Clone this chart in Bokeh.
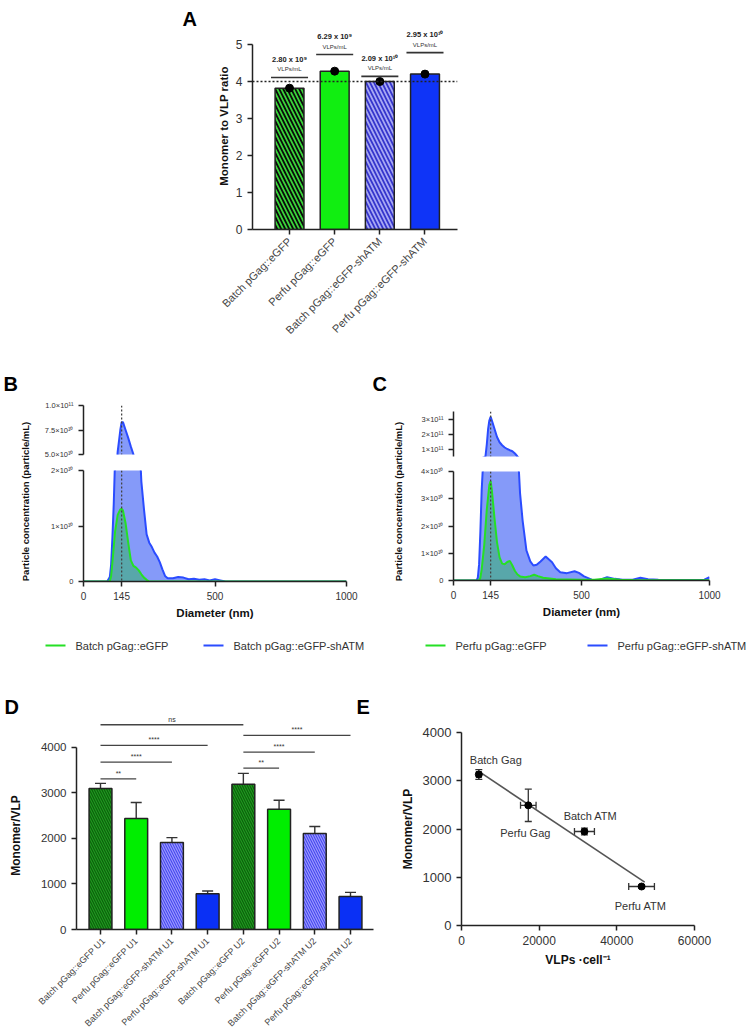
import numpy as np
from math import pi
from bokeh.plotting import figure
from bokeh.layouts import row, column
from bokeh.models import (Range1d, FixedTicker, Span, Label, Whisker, TeeHead,
                          ColumnDataSource)
from bokeh.core.properties import value
from bokeh.embed import file_html
from bokeh.resources import INLINE

FONT = "Liberation Sans"

# ---------------- Panel A data ----------------
a_categories = ["Batch pGag::eGFP", "Perfu pGag::eGFP",
                "Batch pGag::eGFP-shATM", "Perfu pGag::eGFP-shATM"]
a_ratio = [3.82, 4.28, 4.00, 4.20]
a_conc_labels = ["2.80 x 10⁹", "6.29 x 10⁹", "2.09 x 10¹⁰", "2.95 x 10¹⁰"]
a_conc_unit = ["VLPs/mL", "VLPs/mL", "VLPs/mL", "VLPs/mL"]
a_bracket_level = [4.11, 4.73, 4.14, 4.78]
a_reference_ratio = 4.0
a_ticks = [0, 1, 2, 3, 4, 5]

# ---------------- Panel B data (Batch), concentration in 1e10 particles/mL ----------------
b_gfp_d = [0, 100, 105, 110, 120, 130, 140, 145, 150, 160, 170, 180, 190, 200, 210,
           220, 230, 240, 250, 1000]
b_gfp_c = [0, 0, 0.1, 0.35, 0.9, 1.2, 1.3, 1.31, 1.28, 1.05, 0.7, 0.38, 0.28, 0.25, 0.2,
           0.13, 0.07, 0.03, 0.0, 0.0]
b_atm_d = [0, 90, 100, 105, 110, 115, 120, 125, 130, 135, 140, 145, 150, 160, 170, 180,
           190, 200, 210, 215, 220, 230, 240, 250, 260, 270, 280, 290, 300, 310, 320, 340,
           360, 380, 400, 420, 440, 460, 480, 500, 520, 540, 1000]
b_atm_c = [0, 0, 0.08, 0.3, 0.8, 1.4, 2.2, 3.6, 5.3, 6.4, 7.5, 8.3, 8.3, 7.5, 6.7, 5.8,
           5.0, 4.0, 2.9, 2.3, 1.8, 1.3, 0.85, 0.7, 0.62, 0.52, 0.45, 0.35, 0.22, 0.1, 0.06,
           0.06, 0.08, 0.07, 0.04, 0.05, 0.03, 0.04, 0.02, 0.04, 0.02, 0.0, 0.0]
b_top_ticks = [5, 7.5, 10]
b_top_labels = ["5.0×10¹⁰", "7.5×10¹⁰", "1.0×10¹¹"]
b_bot_ticks = [0, 1, 2]
b_bot_labels = ["0", "1×10¹⁰", "2×10¹⁰"]
b_legend = ["Batch pGag::eGFP", "Batch pGag::eGFP-shATM"]

# ---------------- Panel C data (Perfusion) ----------------
c_gfp_d = [0, 100, 105, 110, 120, 130, 140, 145, 150, 160, 170, 180, 190, 200, 210, 220,
           230, 240, 250, 260, 280, 300, 315, 330, 350, 400, 450, 500, 550, 600, 650, 700,
           800, 1000]
c_gfp_c = [0, 0, 0.1, 0.4, 1.3, 2.6, 3.5, 3.65, 3.3, 2.3, 1.4, 0.85, 0.62, 0.6, 0.68, 0.72,
           0.55, 0.35, 0.22, 0.15, 0.12, 0.16, 0.21, 0.16, 0.1, 0.05, 0.04, 0.03, 0.03, 0.07,
           0.03, 0.02, 0.01, 0.01]
c_atm_d = [0, 90, 95, 100, 105, 110, 115, 120, 125, 130, 135, 140, 145, 150, 160, 170, 180,
           190, 200, 210, 220, 230, 240, 250, 260, 270, 285, 300, 312, 325, 340, 360, 385,
           400, 417, 443, 473, 490, 510, 540, 570, 600, 630, 660, 700, 730, 760, 800, 900,
           980, 1000]
c_atm_c = [0, 0, 0.1, 0.6, 1.8, 3.3, 4.2, 4.6, 5.2, 13, 23, 29, 31.5, 29, 23.5, 18, 14.5,
           12.5, 11, 10, 9.2, 8.5, 7, 5, 3.2, 2.2, 1.1, 0.7, 0.55, 0.58, 0.7, 0.88, 0.67,
           0.45, 0.3, 0.27, 0.34, 0.28, 0.15, 0.03, 0.02, 0.12, 0.06, 0.03, 0.03, 0.1, 0.05,
           0.03, 0.02, 0.03, 0.12]
c_top_ticks = [10, 20, 30]
c_top_labels = ["1×10¹¹", "2×10¹¹", "3×10¹¹"]
c_bot_ticks = [0, 1, 2, 3, 4]
c_bot_labels = ["0", "1×10¹⁰", "2×10¹⁰", "3×10¹⁰", "4×10¹⁰"]
c_legend = ["Perfu pGag::eGFP", "Perfu pGag::eGFP-shATM"]

dist_x_ticks = [0, 145, 500, 1000]
mode_diameter = 145

# ---------------- Panel D data ----------------
d_categories = ["Batch pGag::eGFP U1", "Perfu pGag::eGFP U1", "Batch pGag::eGFP-shATM U1",
                "Perfu pGag::eGFP-shATM U1", "Batch pGag::eGFP U2", "Perfu pGag::eGFP U2",
                "Batch pGag::eGFP-shATM U2", "Perfu pGag::eGFP-shATM U2"]
d_mean = [3100, 2440, 1910, 785, 3190, 2640, 2110, 725]
d_err = [110, 350, 110, 60, 240, 200, 155, 90]
d_sig_from = [1, 1, 1, 1, 5, 5, 5]
d_sig_to = [2, 3, 4, 5, 6, 7, 8]
d_sig_level = [3312, 3677, 4044, 4499, 3545, 3897, 4264]
d_sig_text = ["**", "****", "****", "ns", "**", "****", "****"]
d_ticks = [0, 1000, 2000, 3000, 4000]

# ---------------- Panel E data ----------------
e_labels = ["Batch Gag", "Perfu Gag", "Batch ATM", "Perfu ATM"]
e_vlp_per_cell = [4460, 17200, 31660, 46370]
e_vlp_err = [600, 2000, 2570, 3310]
e_monomer = [3130, 2490, 1948, 808]
e_monomer_err = [100, 335, 70, 30]
e_x_ticks = [0, 20000, 40000, 60000]
e_y_ticks = [0, 1000, 2000, 3000, 4000]

# ---------------- styles ----------------
D_COLORS = ["#1f9a1f", "#00ee00", "#4646ee", "#0a30f5"] * 2
D_HATCH = ["left_diagonal_line", " ", "left_diagonal_line", " "] * 2
D_HATCH_COLORS = ["#0c600c", "#00ee00", "#9a9aff", "#0a30f5"] * 2
LINE_BLUE = "#2b4cff"
FILL_BLUE = "#3a5cf5"
LINE_GREEN = "#25e025"
FILL_GREEN = "#22b84a"
INK = "#222222"


def mk(fw, fh, xr, yr, bl, br, bt, bb, xaxis=True, yaxis=True):
    p = figure(frame_width=fw, frame_height=fh, x_range=xr, y_range=yr,
               min_border_left=bl, min_border_right=br, min_border_top=bt,
               min_border_bottom=bb, toolbar_location=None, output_backend="svg",
               title=None,
               x_axis_type="linear" if xaxis else None,
               y_axis_type="linear" if yaxis else None)
    p.outline_line_color = None
    p.grid.visible = False
    p.background_fill_color = "white"
    p.border_fill_color = "white"
    return p


def blank(w, h):
    """A figure whose frame is the whole canvas; data units = pixels (y upwards)."""
    return mk(w, h, Range1d(0, w), Range1d(0, h), 0, 0, 0, 0, xaxis=False, yaxis=False)


def solo(p):
    """Wrap a plot so that sibling plots do not align their frames with it."""
    return column(p)


def style_axis(ax, size="11px", label_size="11px"):
    ax.axis_line_width = 1.5
    ax.axis_line_color = INK
    ax.major_tick_line_width = 1.5
    ax.major_tick_line_color = INK
    ax.major_tick_out = 5
    ax.major_tick_in = 0
    ax.minor_tick_line_color = None
    ax.major_label_text_font = FONT
    ax.major_label_text_font_size = size
    ax.major_label_text_color = "#333333"
    ax.axis_label_text_font = FONT
    ax.axis_label_text_font_style = "bold"
    ax.axis_label_text_font_size = label_size
    ax.axis_label_text_color = "#111111"


def to_data(px, py, fx0, fx1, fyt, fyb, xr, yr):
    x = xr[0] + (px - fx0) * (xr[1] - xr[0]) / (fx1 - fx0)
    y = yr[0] + (fyb - py) * (yr[1] - yr[0]) / (fyb - fyt)
    return x, y


def letter(p, txt, x, y, size="20px"):
    p.add_layout(Label(x=x, y=y, text=txt, text_font=FONT, text_font_size=size,
                       text_font_style="bold", text_color="#000000",
                       text_baseline="middle", text_align="left"))


def vlabel(p, txt, x, y, size):
    p.add_layout(Label(x=x, y=y, text=txt, angle=pi / 2, text_font=FONT,
                       text_font_size=size, text_font_style="bold", text_color="#111111",
                       text_align="center", text_baseline="middle"))


# ================= Panel A =================
labA = blank(208, 372)
letter(labA, "A", 182, 372 - 18)

a_xr = (0.18, 4.72)
a_yr = (0, 5.595)
fa = mk(205, 207, Range1d(*a_xr), Range1d(*a_yr), 44, 294, 22, 143)
a_x = list(range(1, len(a_categories) + 1))
a_src = ColumnDataSource(dict(
    x=a_x, top=a_ratio,
    color=["#3ad63a", "#11ee11", "#3434cc", "#0f34f7"],
    hatch=["left_diagonal_line", " ", "left_diagonal_line", " "],
    hcolor=["#0a0a0a", "#11ee11", "#a8a8f4", "#0f34f7"]))
fa.vbar(x="x", top="top", width=0.64, source=a_src, fill_color="color",
        line_color=INK, line_width=1.5, hatch_pattern="hatch", hatch_color="hcolor",
        hatch_scale=8, hatch_weight=1.8)
fa.scatter(x="x", y="top", source=a_src, size=8, color="#000000")
fa.add_layout(Span(location=a_reference_ratio, dimension="width", line_color=INK,
                   line_dash="2 2", line_width=1.3))
ax_arr = np.array(a_x, dtype=float)
fa.segment(x0=ax_arr - 0.41, x1=ax_arr + 0.41, y0=a_bracket_level, y1=a_bracket_level,
           line_color="#333333", line_width=1.6)
fa.text(x=a_x, y=a_bracket_level, text=a_conc_labels, y_offset=-18,
        text_font=value(FONT), text_font_size="7.5px", text_font_style="bold",
        text_align="center", text_baseline="middle", text_color="#222222")
fa.text(x=a_x, y=a_bracket_level, text=a_conc_unit, y_offset=-8,
        text_font=value(FONT), text_font_size="6px",
        text_align="center", text_baseline="middle", text_color="#333333")
style_axis(fa.yaxis[0], "12px", "11.5px")
fa.yaxis.ticker = FixedTicker(ticks=a_ticks)
fa.yaxis.bounds = (0, 5)
fa.yaxis.axis_label = "Monomer to VLP ratio"
fa.yaxis.axis_label_standoff = 3
style_axis(fa.xaxis[0], "11px")
fa.xaxis.ticker = FixedTicker(ticks=a_x)
fa.xaxis.major_label_overrides = {i: c for i, c in zip(a_x, a_categories)}
fa.xaxis.major_label_orientation = pi / 4
fa.xaxis.major_label_text_color = "#444444"


# ================= Panels B and C =================
def dist_panel(gfp_d, gfp_c, atm_d, atm_c, top_rng, top_ticks, top_labels,
               bot_rng, bot_ticks, bot_labels, legend_labels, fw, bl, br,
               top_fh, top_bt, top_bb, bot_fh, bot_bt, bot_bb, leg_x):
    figs = []
    specs = [(top_rng, top_ticks, top_labels, top_fh, top_bt, top_bb, False),
             (bot_rng, bot_ticks, bot_labels, bot_fh, bot_bt, bot_bb, True)]
    for rng, ticks, labels, fh, bt, bb, is_bottom in specs:
        p = mk(fw, fh, Range1d(0, 1000), Range1d(*rng), bl, br, bt, bb, xaxis=is_bottom)
        p.varea(x=atm_d, y1=0, y2=atm_c, fill_color=FILL_BLUE, fill_alpha=0.62)
        p.varea(x=gfp_d, y1=0, y2=gfp_c, fill_color=FILL_GREEN, fill_alpha=0.45)
        p.line(atm_d, atm_c, line_color=LINE_BLUE, line_width=2)
        p.line(gfp_d, gfp_c, line_color=LINE_GREEN, line_width=2)
        p.add_layout(Span(location=mode_diameter, dimension="height", line_color="#444444",
                          line_dash="2 2", line_width=1.3))
        style_axis(p.yaxis[0], "7.5px")
        p.yaxis.ticker = FixedTicker(ticks=ticks)
        p.yaxis.major_label_overrides = {t: l for t, l in zip(ticks, labels)}
        if is_bottom:
            style_axis(p.xaxis[0], "10px", "11.5px")
            p.xaxis.ticker = FixedTicker(ticks=dist_x_ticks)
            p.xaxis.axis_label = "Diameter (nm)"
            p.xaxis.axis_label_standoff = 4
        figs.append(p)
    # legend strip (swatch lines + labels), drawn in a pixel-unit strip
    w = bl + fw + br
    lg = blank(w, 40)
    sw_x0 = np.array(leg_x, dtype=float)
    lg.segment(x0=sw_x0, x1=sw_x0 + 20, y0=[17, 17], y1=[17, 17],
               line_color=[LINE_GREEN, LINE_BLUE], line_width=2.2)
    lg.text(x=sw_x0 + 30, y=[17, 17], text=legend_labels, text_font=value(FONT),
            text_font_size="11px", text_color="#333333", text_baseline="middle",
            text_align="left")
    figs.append(lg)
    return figs


topB, botB, legB = dist_panel(b_gfp_d, b_gfp_c, b_atm_d, b_atm_c,
                              (5, 10), b_top_ticks, b_top_labels,
                              (0, 2), b_bot_ticks, b_bot_labels, b_legend,
                              263, 47, 24, 49, 33, 8, 111, 8, 41, [9, 167])
topC, botC, legC = dist_panel(c_gfp_d, c_gfp_c, c_atm_d, c_atm_c,
                              (5, 35), c_top_ticks, c_top_labels,
                              (0, 4), c_bot_ticks, c_bot_labels, c_legend,
                              256, 43, 42, 45, 39, 6, 109, 9, 42, [15, 177])


def label_fig(width, letter_txt, letter_x, ylabel_x):
    p = blank(width, 290)
    letter(p, letter_txt, letter_x, 290 - 11)
    vlabel(p, "Particle concentration (particle/mL)", ylabel_x, 290 - 129, "9.5px")
    return p


labB = label_fig(36, "B", 3, 25)
labC = label_fig(40, "C", 2, 28)

# ================= Panel D =================
labD = blank(36, 365)
letter(labD, "D", 4, 365 - 44)
vlabel(labD, "Monomer/VLP", 15, 365 - (835 - 662), "12px")

d_yr = (0, 5252)
d_xr = (0.328, 8.644)
fd = mk(297, 239, Range1d(*d_xr), Range1d(*d_yr), 40, 7, 28, 98)
d_x = list(range(1, len(d_categories) + 1))
d_src = ColumnDataSource(dict(
    x=d_x, top=d_mean, upper=[m + e for m, e in zip(d_mean, d_err)],
    color=D_COLORS, hatch=D_HATCH, hcolor=D_HATCH_COLORS))
fd.vbar(x="x", top="top", width=0.64, source=d_src, fill_color="color",
        line_color=INK, line_width=1.5, hatch_pattern="hatch", hatch_color="hcolor",
        hatch_scale=5, hatch_weight=1.2)
fd.add_layout(Whisker(source=d_src, base="x", lower="top", upper="upper",
                      dimension="height", line_color="#333333", line_width=1.4,
                      upper_head=TeeHead(size=11, line_color="#333333", line_width=1.4),
                      lower_head=None))
fd.segment(x0=d_sig_from, x1=d_sig_to, y0=d_sig_level, y1=d_sig_level,
           line_color="#444444", line_width=1.3)
sig_mid = [(a + b) / 2 for a, b in zip(d_sig_from, d_sig_to)]
fd.text(x=sig_mid, y=d_sig_level, text=d_sig_text, y_offset=-2,
        text_font=value(FONT), text_font_size="7px", text_align="center",
        text_baseline="bottom", text_color="#333333")
style_axis(fd.yaxis[0], "11.5px", "12px")
fd.yaxis.ticker = FixedTicker(ticks=d_ticks)
fd.yaxis.bounds = (0, 4000)
style_axis(fd.xaxis[0], "9px")
fd.xaxis.ticker = FixedTicker(ticks=d_x)
fd.xaxis.major_label_overrides = {i: c for i, c in zip(d_x, d_categories)}
fd.xaxis.major_label_orientation = pi / 4
fd.xaxis.major_label_text_color = "#444444"
lx, ly = to_data(356, 706, 76, 373, 690, 929, d_xr, d_yr)
letter(fd, "E", lx, ly)

# ================= Panel E =================
fe = mk(233, 193, Range1d(0, 60000), Range1d(0, 4000), 81, 57, 70, 102)
e_src = ColumnDataSource(dict(
    x=e_vlp_per_cell, y=e_monomer,
    xl=[v - e for v, e in zip(e_vlp_per_cell, e_vlp_err)],
    xu=[v + e for v, e in zip(e_vlp_per_cell, e_vlp_err)],
    yl=[v - e for v, e in zip(e_monomer, e_monomer_err)],
    yu=[v + e for v, e in zip(e_monomer, e_monomer_err)],
    label=e_labels, dx=[17, -3, 6, -1], dy=[-14, 28, -16, 19]))
coef = np.polyfit(e_vlp_per_cell, e_monomer, 1)
fit_x = np.array([min(e_vlp_per_cell), max(e_vlp_per_cell) + 800])
fe.line(fit_x, np.polyval(coef, fit_x), line_color="#555555", line_width=1.6)
for dim, b, lo, hi in [("height", "x", "yl", "yu"), ("width", "y", "xl", "xu")]:
    fe.add_layout(Whisker(source=e_src, base=b, lower=lo, upper=hi, dimension=dim,
                          line_color="#333333", line_width=1.3,
                          upper_head=TeeHead(size=7, line_color="#333333", line_width=1.3),
                          lower_head=TeeHead(size=7, line_color="#333333", line_width=1.3)))
fe.scatter(x="x", y="y", source=e_src, size=7, color="#000000")
fe.text(x="x", y="y", text="label", x_offset="dx", y_offset="dy", source=e_src,
        text_font=value(FONT), text_font_size="11px", text_align="center",
        text_baseline="middle", text_color="#333333")
style_axis(fe.yaxis[0], "13px", "12px")
fe.yaxis.ticker = FixedTicker(ticks=e_y_ticks)
fe.yaxis.axis_label = "Monomer/VLP"
style_axis(fe.xaxis[0], "12px", "12px")
fe.xaxis.ticker = FixedTicker(ticks=e_x_ticks)
fe.xaxis.axis_label = "VLPs ·cell⁻¹"

layout = column(
    row(solo(labA), solo(fa)),
    row(solo(labB), column(topB, botB, row(legB)), solo(labC),
        column(topC, botC, row(legC))),
    row(solo(labD), solo(fd), solo(fe)),
)

open("out.html", "w").write(file_html(layout, INLINE))
